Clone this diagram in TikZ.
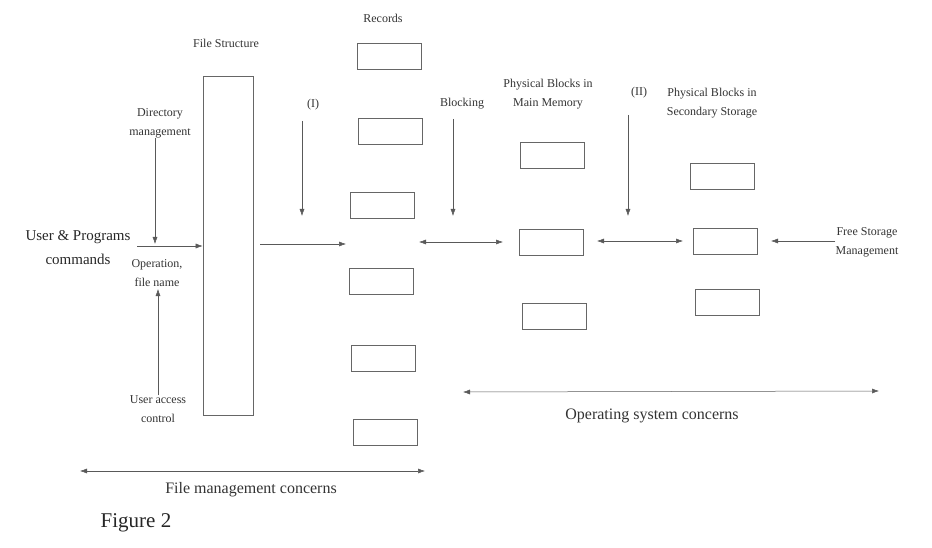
\documentclass[tikz,border=0pt]{standalone}
\usepackage{fontspec}
\setmainfont{Liberation Serif}
\usetikzlibrary{arrows.meta}
\tikzset{
  blk/.style={draw=black!60, line width=0.6pt, minimum width=64pt, minimum height=26pt, inner sep=0pt},
  lbl/.style={font=\fontsize{12}{19}\selectfont, text=black!80, align=center, inner sep=0pt},
  biglbl/.style={font=\fontsize{16}{19}\selectfont, text=black!80, align=center, inner sep=0pt},
  arr/.style={draw=black!65, line width=0.5pt, -{Latex[length=7pt,width=5pt]}},
  darr/.style={draw=black!65, line width=0.5pt, {Latex[length=7pt,width=5pt]}-{Latex[length=7pt,width=5pt]}}
}
\begin{document}
\begin{tikzpicture}[x=1pt,y=-1pt]
    \useasboundingbox (0,0) rectangle (932,548);

    % File structure
    \node[draw=black!60, line width=0.6pt, minimum width=50pt, minimum height=339pt, inner sep=0pt] (fs) at (228,245.5) {};
    \node[lbl] (fslbl) at (226,43) {File Structure};

    % Records
    \node[lbl] (reclbl) at (383,18) {Records};
    \foreach \x/\y [count=\i] in {389/56, 390/131, 382/205, 381/281, 383/358, 385/432}
        \node[blk] (rec\i) at (\x,\y) {};

    % Physical blocks in main memory
    \node[lbl] (mmlbl) at (548,94) {Physical Blocks in\\Main Memory};
    \foreach \x/\y [count=\i] in {552/155, 551/242, 554/316}
        \node[blk] (mm\i) at (\x,\y) {};

    % Physical blocks in secondary storage
    \node[lbl] (sslbl) at (712,103) {Physical Blocks in\\Secondary Storage};
    \foreach \x/\y [count=\i] in {722/176, 725/241, 727/302}
        \node[blk] (ss\i) at (\x,\y) {};

    % Left side inputs
    \node[font=\fontsize{15}{24}\selectfont, text=black!85, align=center, inner sep=0pt] (ucmd) at (78,248) {User \& Programs\\commands};
    \node[lbl] (dirm) at (160,123) {Directory\\management};
    \node[lbl] (opfn) at (157,273) {Operation,\\file name};
    \node[lbl] (uac) at (158,409) {User access\\control};
    \coordinate (cmdstart) at (137,246);
    \coordinate (dirtip) at (155,244);
    \coordinate (uactip) at (158,289);
    \draw[arr] (cmdstart) -- (fs.west |- cmdstart);
    \draw[arr] (dirm.south -| dirtip) -- (dirtip);
    \draw[arr] (uac.north -| uactip) -- (uactip);

    % (I) and Blocking
    \node[lbl] (one) at (313,105) {(I)};
    \node[lbl] (blocking) at (462,104) {Blocking};
    \coordinate (onetop) at (302,121);
    \coordinate (onetip) at (302,216);
    \coordinate (blktop) at (453,119);
    \coordinate (blktip) at (453,216);
    \draw[arr] (onetop) -- (onetip);
    \draw[arr] (blktop) -- (blktip);

    % Flow of records to blocks
    \coordinate (fsout) at (260,244);
    \coordinate (recin) at (346,244);
    \coordinate (recout) at (419,242);
    \coordinate (mmin) at (503,242);
    \coordinate (mmout) at (597,241);
    \coordinate (ssin) at (683,241);
    \draw[arr] (fsout) -- (recin);
    \draw[darr] (recout) -- (mmin);
    \draw[darr] (mmout) -- (ssin);

    % (II) and free storage management
    \node[lbl] (two) at (639,93) {(II)};
    \coordinate (twotop) at (628,115);
    \coordinate (twotip) at (628,216);
    \draw[arr] (twotop) -- (twotip);
    \node[lbl] (fsm) at (867,242) {Free Storage\\Management};
    \coordinate (ssout) at (771,241);
    \draw[arr] (fsm.west |- ssout) -- (ssout);

    % Concerns
    \coordinate (fmleft) at (80,471);
    \coordinate (fmright) at (425,471);
    \draw[darr] (fmleft) -- (fmright);
    \node[biglbl] (fmlbl) at (251,490) {File management concerns};
    \coordinate (osleft) at (463,392);
    \coordinate (osright) at (879,391);
    \draw[darr] (osleft) -- (osright);
    \node[biglbl] (oslbl) at (652,416) {Operating system concerns};

    % Caption
    \node[font=\fontsize{21}{24}\selectfont, text=black!85, inner sep=0pt] (cap) at (136,523) {Figure 2};
\end{tikzpicture}
\end{document}
